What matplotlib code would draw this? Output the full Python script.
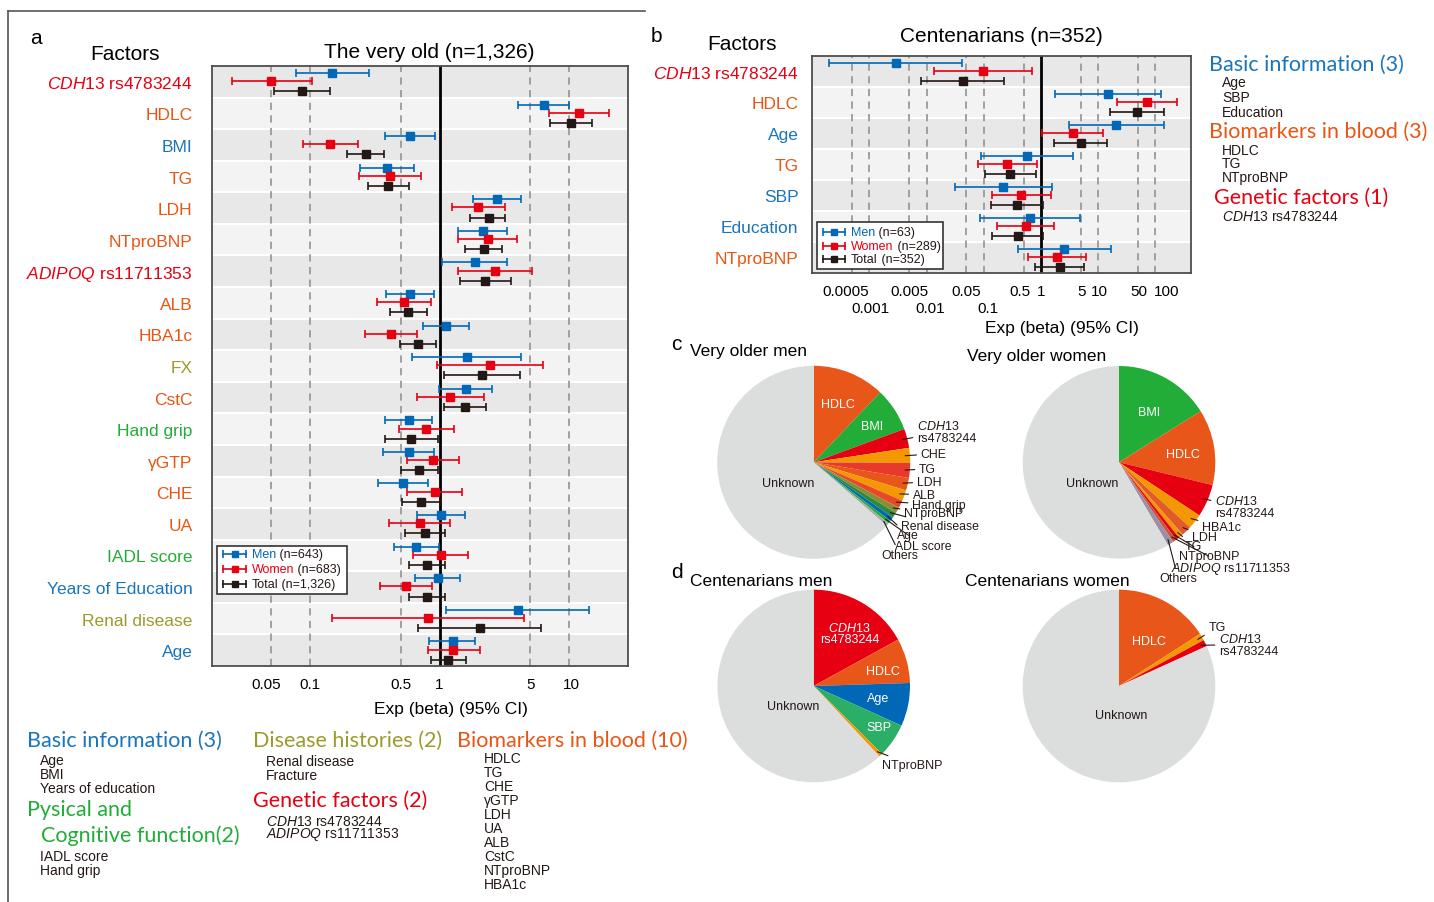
import matplotlib.pyplot as plt
from matplotlib.lines import Line2D
from matplotlib.patches import Rectangle
from matplotlib.transforms import ScaledTranslation
import numpy as np

plt.rcParams['font.family'] = ['Liberation Sans', 'DejaVu Sans']
plt.rcParams['mathtext.fontset'] = 'custom'
plt.rcParams['mathtext.rm'] = 'Liberation Sans'
plt.rcParams['mathtext.it'] = 'Liberation Sans:italic'

BLUE, RED, BLACK = '#0068b7', '#e60012', '#231815'
C_BASIC, C_BIO, C_GEN, C_DIS, C_PHYS = '#1a75bc', '#e95513', '#e60012', '#9c9a2b', '#22ac38'
HEAD_FONT = 'Lato'

# ---- a: the very old (n=1,326) ----
old_factors = [r'$\mathit{CDH13}$ rs4783244', 'HDLC', 'BMI', 'TG', 'LDH', 'NTproBNP',
               r'$\mathit{ADIPOQ}$ rs11711353', 'ALB', 'HBA1c', 'FX', 'CstC', 'Hand grip',
               'γGTP', 'CHE', 'UA', 'IADL score', 'Years of Education', 'Renal disease', 'Age']
old_colors = [C_GEN, C_BIO, C_BASIC, C_BIO, C_BIO, C_BIO, C_GEN, C_BIO, C_BIO, C_DIS, C_BIO,
              C_PHYS, C_BIO, C_BIO, C_BIO, C_PHYS, C_BASIC, C_DIS, C_BASIC]
old_men_est = [0.147, 6.35, 0.59, 0.392, 2.77, 2.16, 1.87, 0.59, 1.12, 1.62, 1.60, 0.576, 0.576, 0.518, 1.02, 0.653, 0.964, 4.0, 1.26]
old_men_lo = [0.0773, 4.0, 0.38, 0.244, 1.82, 1.40, 1.05, 0.383, 0.743, 0.618, 0.99, 0.376, 0.367, 0.332, 0.668, 0.443, 0.648, 1.12, 0.827]
old_men_hi = [0.284, 9.96, 0.925, 0.63, 4.22, 3.31, 3.29, 0.908, 1.69, 4.27, 2.55, 0.877, 0.908, 0.812, 1.58, 0.99, 1.45, 14.3, 1.87]
old_women_est = [0.050, 11.9, 0.143, 0.411, 1.99, 2.35, 2.66, 0.53, 0.42, 2.44, 1.21, 0.788, 0.888, 0.915, 0.701, 1.02, 0.549, 0.812, 1.28]
old_women_lo = [0.0248, 6.94, 0.088, 0.238, 1.24, 1.39, 1.38, 0.328, 0.264, 0.96, 0.67, 0.482, 0.562, 0.565, 0.408, 0.625, 0.348, 0.147, 0.808]
old_women_hi = [0.103, 20.4, 0.233, 0.713, 3.19, 3.93, 5.19, 0.857, 0.671, 6.28, 2.19, 1.30, 1.42, 1.49, 1.20, 1.65, 0.873, 4.5, 2.04]
old_total_est = [0.0865, 10.3, 0.27, 0.401, 2.39, 2.19, 2.24, 0.573, 0.68, 2.12, 1.57, 0.604, 0.689, 0.721, 0.77, 0.798, 0.798, 2.04, 1.16]
old_total_lo = [0.0525, 7.1, 0.194, 0.278, 1.73, 1.57, 1.43, 0.411, 0.496, 1.08, 1.09, 0.378, 0.505, 0.512, 0.537, 0.582, 0.576, 0.684, 0.852]
old_total_hi = [0.1415, 15.1, 0.373, 0.582, 3.19, 3.04, 3.55, 0.798, 0.936, 4.19, 2.28, 0.97, 0.98, 1.01, 1.10, 1.10, 1.10, 6.06, 1.60]
old_ticks = [0.05, 0.1, 0.5, 1, 5, 10]

# ---- b: centenarians (n=352) ----
cent_factors = [r'$\mathit{CDH13}$ rs4783244', 'HDLC', 'Age', 'TG', 'SBP', 'Education', 'NTproBNP']
cent_colors = [C_GEN, C_BIO, C_BASIC, C_BIO, C_BASIC, C_BASIC, C_BIO]
cent_men_est = [0.00292, 15.2, 21.0, 0.577, 0.219, 0.634, 2.59]
cent_men_lo = [0.0002, 1.80, 3.09, 0.0893, 0.031, 0.0847, 0.396]
cent_men_hi = [0.0422, 128, 141, 3.63, 1.54, 4.81, 17.0]
cent_women_est = [0.098, 72.3, 3.63, 0.258, 0.453, 0.54, 1.93]
cent_women_lo = [0.01365, 21.3, 1.04, 0.0781, 0.139, 0.170, 0.608]
cent_women_hi = [0.705, 245, 12.1, 0.84, 1.48, 1.71, 6.2]
cent_total_est = [0.0427, 48.3, 5.0, 0.291, 0.38, 0.391, 2.15]
cent_total_lo = [0.00787, 16.5, 1.71, 0.105, 0.1355, 0.141, 0.796]
cent_total_hi = [0.229, 141, 14.4, 0.818, 1.07, 1.10, 5.8]
cent_ticks = [0.0005, 0.005, 0.05, 0.5, 1, 5, 10, 50, 100]
cent_ticks_low = [0.001, 0.01, 0.1]

# ---- c, d: explained variance shares (%) ----
vom_labels = ['HDLC', 'BMI', 'CDH13', 'CHE', 'TG', 'LDH', 'ALB', 'Hand grip', 'NTproBNP',
              'Renal disease', 'Age', 'ADL score', 'Others', 'Unknown']
vom_share = [12.1, 7.3, 3.2, 2.5, 2.5, 2.1, 1.8, 1.3, 1.0, 0.9, 0.7, 0.5, 0.5, 63.6]
vom_colors = ['#e8561a', '#22ac38', '#e60012', '#f39800', '#e8392b', '#e8561a', '#f39800',
              '#e94828', '#8c8c32', '#2e8b3c', '#0068b7', '#22ac38', '#aaaaaa', '#dcdddd']
vow_labels = ['BMI', 'HDLC', 'CDH13', 'HBA1c', 'LDH', 'TG', 'NTproBNP', 'ADIPOQ', 'Others', 'Unknown']
vow_share = [16.1, 12.7, 5.5, 2.5, 1.7, 0.8, 0.6, 0.6, 1.0, 58.5]
vow_colors = ['#22ac38', '#e8561a', '#e60012', '#f39800', '#e05a2a', '#f39800', '#e60012',
              '#c8553d', '#9a8fa5', '#dcdddd']
cm_labels = ['CDH13', 'HDLC', 'Age', 'SBP', 'NTproBNP', 'Unknown']
cm_share = [17.0, 7.5, 7.25, 5.7, 0.6, 61.95]
cm_colors = ['#e60012', '#e8561a', '#0068b7', '#2bae66', '#f39800', '#dcdddd']
cw_labels = ['HDLC', 'TG', 'CDH13', 'Unknown']
cw_share = [15.9, 1.2, 1.1, 81.8]
cw_colors = ['#e8561a', '#f39800', '#e60012', '#dcdddd']

W, H = 1434, 903
fig = plt.figure(figsize=(W / 100, H / 100), dpi=100)


def add_ax_px(x0, y0, x1, y1):
    return fig.add_axes([x0 / W, 1 - y1 / H, (x1 - x0) / W, (y1 - y0) / H])


def ftext(x, y, s, **kw):
    kw.setdefault('va', 'center')
    return fig.text(x / W, 1 - y / H, s, **kw)


def shift_labels(labels, offsets):
    # nudge tick labels sideways by a few pixels
    for lab, dx in zip(labels, offsets):
        lab.set_transform(lab.get_transform() + ScaledTranslation(dx / 100, 0, fig.dpi_scale_trans))


def forest(ax, factors, colors, groups, xlim, ticks, label_pad, low_ticks=()):
    n = len(factors)
    for i in range(n):
        ax.axhspan(i - 0.5, i + 0.5, color='#e8e8e8' if i % 2 == 0 else '#f3f3f3', lw=0, zorder=0)
        if i < n - 1:
            ax.axhline(i + 0.5, color='white', lw=1.5, zorder=0.5)
    for t in list(ticks) + list(low_ticks):
        if t != 1:
            ax.axvline(t, color='#9a9a9a', lw=1.3, ls=(0, (4, 3)), zorder=1)
    ax.axvline(1, color='black', lw=2, zorder=2)
    for est, lo, hi, col, off in groups:
        est, lo, hi = map(np.asarray, (est, lo, hi))
        ax.errorbar(est, np.arange(n) + off, xerr=[est - lo, hi - est], fmt='s', color=col,
                    ms=5.5, capsize=3, elinewidth=1.2, capthick=1.2, zorder=3)
    ax.set_xscale('log')
    ax.set_xlim(*xlim)
    ax.set_ylim(n - 0.5, -0.5)
    ax.minorticks_off()
    ax.set_xticks(ticks)
    ax.set_xticklabels([f'{t:g}' for t in ticks], fontsize=11)
    if len(low_ticks):
        ax.set_xticks(low_ticks, minor=True)
        ax.set_xticklabels([f'{t:g}' for t in low_ticks], minor=True, fontsize=11)
    ax.set_yticks(range(n))
    ax.set_yticklabels(factors, fontsize=12.5)
    for lab, c in zip(ax.get_yticklabels(), colors):
        lab.set_color(c)
    ax.tick_params(which='both', length=0)
    ax.tick_params(axis='x', which='major', pad=8)
    ax.tick_params(axis='x', which='minor', pad=20)
    ax.tick_params(axis='y', pad=label_pad)
    for s in ax.spines.values():
        s.set_color('#4d4d4d')
        s.set_linewidth(1.3)


def legend_box(ax, box, rows, xs):
    x0, y0, x1, y1 = box
    ax.add_patch(Rectangle((x0, y0), x1 - x0, y1 - y0, transform=ax.transAxes, facecolor='white',
                           edgecolor='#333333', lw=1.2, zorder=5))
    xa, xm, xb, xt = xs
    for (col, name, suffix), y in rows:
        ax.plot([xa, xb], [y, y], color=col, lw=1.2, transform=ax.transAxes, zorder=6)
        ax.plot([xa, xb], [y, y], ls='', marker='|', ms=6, mew=1.2, color=col, transform=ax.transAxes, zorder=6)
        ax.plot([xm], [y], marker='s', ms=5, color=col, transform=ax.transAxes, zorder=6)
        t = ax.text(xt, y, name, color=col, fontsize=9, va='center', transform=ax.transAxes, zorder=7)
        ax.annotate(suffix, xy=(1, 0.5), xycoords=t, va='center', ha='left', fontsize=9, color=BLACK, zorder=7)


# panel a
ax_a = add_ax_px(212, 67, 628, 667)
forest(ax_a, old_factors, old_colors,
       [(old_men_est, old_men_lo, old_men_hi, BLUE, -0.28),
        (old_women_est, old_women_lo, old_women_hi, RED, -0.02),
        (old_total_est, old_total_lo, old_total_hi, BLACK, 0.3)],
       (0.0175, 28.5), old_ticks, 14)
legend_box(ax_a, (0.011, 0.12, 0.325, 0.2),
           [((BLUE, 'Men', ' (n=643)'), 0.187), ((RED, 'Women', ' (n=683)'), 0.162),
            ((BLACK, 'Total', ' (n=1,326)'), 0.137)],
           (0.027, 0.0546, 0.081, 0.0954))
shift_labels(ax_a.get_xticklabels(), [-5, 0, 0, 0, 0, 2])

# panel b
ax_b = add_ax_px(812.3, 56.7, 1190.7, 274)
forest(ax_b, cent_factors, cent_colors,
       [(cent_men_est, cent_men_lo, cent_men_hi, BLUE, -0.27),
        (cent_women_est, cent_women_lo, cent_women_hi, RED, 0.0),
        (cent_total_est, cent_total_lo, cent_total_hi, BLACK, 0.3)],
       (1.0e-4, 420), cent_ticks, 10, cent_ticks_low)
legend_box(ax_b, (0.0116, 0.018, 0.345, 0.236),
           [((BLUE, 'Men', ' (n=63)'), 0.19), ((RED, 'Women', ' (n=289)'), 0.126),
            ((BLACK, 'Total', ' (n=352)'), 0.064)],
           (0.0275, 0.0573, 0.0864, 0.1023))
shift_labels(ax_b.get_xticklabels(), [-7, 0, 0, -4, 0, 1, 1, 1, 12])
shift_labels(ax_b.get_xticklabels(minor=True), [1, 4, 4])

# titles and axis captions
ftext(30, 38, 'a', fontsize=15)
ftext(125, 54, 'Factors', fontsize=15, ha='center')
ftext(429, 52, 'The very old (n=1,326)', fontsize=15, ha='center')
ftext(451, 710, 'Exp (beta) (95% CI)', fontsize=12.5, ha='center')
ftext(651, 37, 'b', fontsize=15)
ftext(742, 45, 'Factors', fontsize=15, ha='center')
ftext(1001, 37, 'Centenarians (n=352)', fontsize=15, ha='center')
ftext(1062, 328, 'Exp (beta) (95% CI)', fontsize=12.5, ha='center')

# frame around panel a
fig.add_artist(Line2D([8 / W, 8 / W], [1 - 12 / H, 0], color='#555555', lw=1.2))
fig.add_artist(Line2D([8 / W, 645 / W], [1 - 12 / H, 1 - 12 / H], color='#555555', lw=1.2))


def group_list(x, y, head, color, items, dx=13, step=14, first=20):
    ftext(x, y, head, fontsize=15.5, color=color, family=HEAD_FONT)
    for k, it in enumerate(items):
        ftext(x + dx, y + first + k * step, it, fontsize=10, color=BLACK)


group_list(27, 741, 'Basic information (3)', C_BASIC, ['Age', 'BMI', 'Years of education'])
ftext(27, 810, 'Pysical and', fontsize=15.5, color=C_PHYS, family=HEAD_FONT)
group_list(41, 836, 'Cognitive function(2)', C_PHYS, ['IADL score', 'Hand grip'], dx=-1, first=21)
group_list(253, 741, 'Disease histories (2)', C_DIS, ['Renal disease', 'Fracture'], first=21)
group_list(253, 801, 'Genetic factors (2)', C_GEN,
           [r'$\mathit{CDH13}$ rs4783244', r'$\mathit{ADIPOQ}$ rs11711353'], first=21, step=13)
group_list(457, 741, 'Biomarkers in blood (10)', C_BIO,
           ['HDLC', 'TG', 'CHE', 'γGTP', 'LDH', 'UA', 'ALB', 'CstC', 'NTproBNP', 'HBA1c'], dx=27, first=18)

group_list(1209, 65, 'Basic information (3)', C_BASIC, ['Age', 'SBP', 'Education'], first=18, step=15)
group_list(1209, 132, 'Biomarkers in blood (3)', C_BIO, ['HDLC', 'TG', 'NTproBNP'], first=19, step=13.5)
group_list(1214, 198, 'Genetic factors (1)', C_GEN, [r'$\mathit{CDH13}$ rs4783244'], dx=8, first=19)


def pie_panel(cx, cy, r, share, colors):
    ax = add_ax_px(cx - 1.05 * r, cy - 1.05 * r, cx + 2.0 * r, cy + 1.35 * r)
    wedges, _ = ax.pie(share, colors=colors, startangle=90, counterclock=False, radius=1,
                       wedgeprops=dict(linewidth=0))
    ax.set_xlim(-1.05, 2.0)
    ax.set_ylim(-1.35, 1.05)
    ax.set_aspect('equal')
    ax.axis('off')
    return ax, wedges


def inner(ax, x, y, s, color='white'):
    ax.text(x, y, s, ha='center', va='center', fontsize=9, color=color)


def leader(ax, wedge, s, pos, rr=0.95, size=9):
    ang = np.deg2rad((wedge.theta1 + wedge.theta2) / 2)
    ax.annotate(s, xy=(rr * np.cos(ang), rr * np.sin(ang)), xytext=pos, ha='left', va='center',
                fontsize=size, color=BLACK, linespacing=0.95,
                arrowprops=dict(arrowstyle='-', lw=0.8, color=BLACK, shrinkA=1, shrinkB=0))


# c: very old
ftext(671, 345, 'c', fontsize=15)
ftext(690, 352, 'Very older men', fontsize=12.5)
ftext(967, 356, 'Very older women', fontsize=12.5)
ax, w = pie_panel(813.7, 463.3, 96.5, vom_share, vom_colors)
inner(ax, 0.252, 0.604, 'HDLC')
inner(ax, 0.603, 0.376, 'BMI')
inner(ax, -0.263, -0.218, 'Unknown', BLACK)
leader(ax, w[2], '$\\mathit{CDH13}$\nrs4783244', (1.07, 0.32))
for k, pos in zip(range(3, 13), [(1.108, 0.086), (1.09, -0.069), (1.067, -0.204), (1.025, -0.336),
                                 (1.019, -0.44), (0.936, -0.53), (0.902, -0.66), (0.86, -0.75),
                                 (0.842, -0.864), (0.705, -0.957)]):
    leader(ax, w[k], vom_labels[k], pos, size=8.8)

ax, w = pie_panel(1119, 463.3, 96.3, vow_share, vow_colors)
inner(ax, 0.315, 0.519, 'BMI')
inner(ax, 0.661, 0.086, 'HDLC')
inner(ax, -0.283, -0.218, 'Unknown', BLACK)
leader(ax, w[2], '$\\mathit{CDH13}$\nrs4783244', (0.997, -0.46))
leader(ax, w[3], 'HBA1c', (0.862, -0.669))
leader(ax, w[4], 'LDH', (0.758, -0.773))
leader(ax, w[5], 'TG', (0.685, -0.872))
leader(ax, w[6], 'NTproBNP', (0.626, -0.976))
leader(ax, w[7], r'$\mathit{ADIPOQ}$ rs11711353', (0.537, -1.094))
leader(ax, w[8], 'Others', (0.415, -1.198))

# d: centenarians
ftext(671, 573, 'd', fontsize=15)
ftext(690, 581, 'Centenarians men', fontsize=12.5)
ftext(965, 581, 'Centenarians women', fontsize=12.5)
ax, w = pie_panel(813.7, 687, 96.3, cm_share, cm_colors)
ax.text(0.37, 0.55, '$\\mathit{CDH13}$\nrs4783244', ha='center', va='center', fontsize=9,
        color='white', linespacing=0.95)
inner(ax, 0.723, 0.159, 'HDLC')
inner(ax, 0.665, -0.128, 'Age')
inner(ax, 0.681, -0.423, 'SBP')
inner(ax, -0.212, -0.205, 'Unknown', BLACK)
leader(ax, w[4], 'NTproBNP', (0.712, -0.82))

ax, w = pie_panel(1119, 687, 96.3, cw_share, cw_colors)
inner(ax, 0.315, 0.47, 'HDLC')
inner(ax, 0.021, -0.298, 'Unknown', BLACK)
leader(ax, w[1], 'TG', (0.927, 0.61))
leader(ax, w[2], '$\\mathit{CDH13}$\nrs4783244', (1.038, 0.43))

fig.savefig('out.png', dpi=100)
